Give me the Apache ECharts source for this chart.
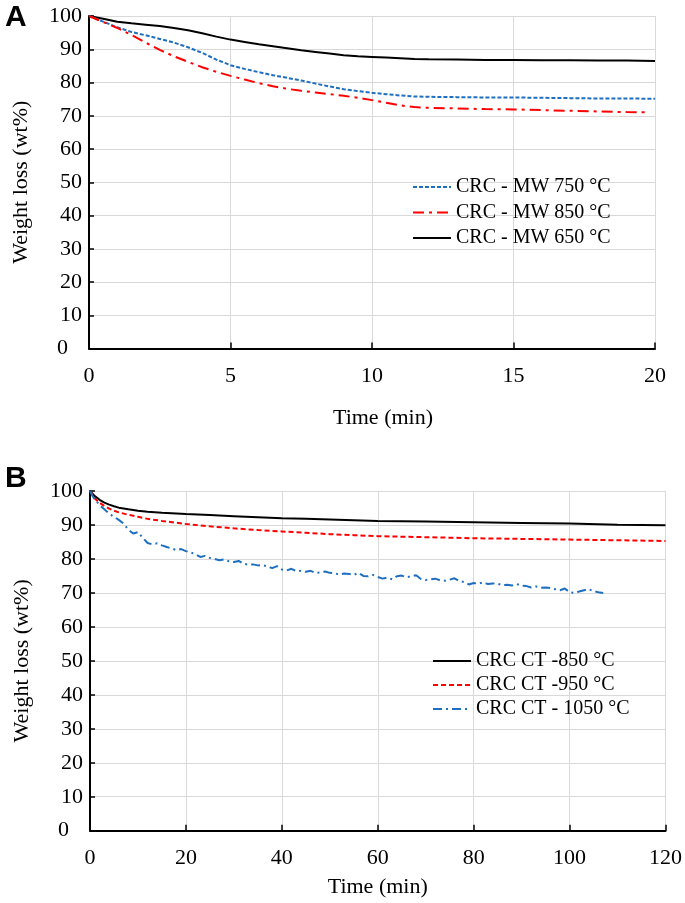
<!DOCTYPE html>
<html>
<head>
<meta charset="utf-8">
<script src="https://cdn.jsdelivr.net/npm/echarts@6/dist/echarts.min.js"></script>
<style>
html,body{margin:0;padding:0;background:#fff;}
#chart{width:685px;height:903px;}
</style>
</head>
<body>
<div id="chart"></div>
<script>
// Panel A: microwave (time in min, weight %)
var mw750 = [[0,100],[0.5,98.3],[1,96.6],[1.5,95.2],[2,94.2],[2.5,93.1],[3,92.0],[3.5,90.6],[4,88.9],[4.5,86.9],[5,85.2],[5.5,84.1],[6,83.1],[6.5,82.2],[7,81.4],[7.5,80.6],[8,79.7],[8.5,78.8],[9,78.0],[9.5,77.4],[10,76.9],[10.5,76.5],[11,76.1],[11.5,75.8],[12,75.7],[13,75.6],[14,75.5],[15,75.5],[16,75.4],[17,75.3],[18,75.2],[19,75.2],[20,75.1]];
var mw850 = [[0,100],[0.5,98.2],[1,96.4],[1.5,94.3],[2,92.0],[2.5,89.8],[3,87.9],[3.5,86.2],[4,84.6],[4.5,83.2],[5,82.0],[5.5,80.9],[6,79.8],[6.5,78.9],[7,78.1],[7.5,77.5],[8,77.0],[8.5,76.5],[9,76.0],[9.5,75.4],[10,74.7],[10.5,73.9],[11,73.1],[11.5,72.6],[12,72.4],[13,72.2],[14,72.0],[15,71.9],[16,71.7],[17,71.5],[18,71.3],[19,71.1],[19.8,71.0]];
var mw650 = [[0,100],[0.5,99.2],[1,98.3],[1.5,97.8],[2,97.4],[2.5,97.0],[3,96.4],[3.5,95.7],[4,94.8],[4.5,93.8],[5,92.9],[5.5,92.2],[6,91.5],[6.5,90.9],[7,90.3],[7.5,89.7],[8,89.2],[8.5,88.7],[9,88.2],[9.5,87.9],[10,87.7],[10.5,87.5],[11,87.3],[11.5,87.1],[12,87.0],[13,86.9],[14,86.8],[15,86.8],[16,86.7],[17,86.7],[18,86.6],[19,86.6],[20,86.5]];

// Panel B: conventional heating
var ct850 = [[0,100],[1,98.5],[2,97.4],[3,96.6],[4,96.0],[5,95.5],[6,95.1],[8,94.6],[10,94.2],[12,93.9],[15,93.6],[20,93.2],[25,92.9],[30,92.6],[35,92.3],[40,92.0],[45,91.8],[50,91.6],[55,91.4],[60,91.2],[70,91.0],[80,90.8],[90,90.6],[100,90.4],[110,90.1],[120,89.9]];
var ct950 = [[0,100],[1,97.8],[2,96.5],[3,95.6],[4,94.8],[5,94.2],[6,93.7],[8,93.0],[10,92.4],[12,91.8],[15,91.2],[20,90.3],[25,89.6],[30,89.0],[35,88.5],[40,88.1],[45,87.7],[50,87.3],[55,87.0],[60,86.7],[70,86.4],[80,86.1],[90,85.9],[100,85.7],[110,85.5],[120,85.3]];
var ct1050 = [[0,100],[0.5,98.6],[1,97.5],[1.5,96.7],[2,95.8],[3,94.6],[4,93.3],[5,92.4],[6,91.5],[7,90.4],[8,88.6],[9,87.5],[10,87.9],[11,86.2],[12,84.7],[13,84.3],[14,84.6],[15,84.0],[16,83.5],[17,83.1],[18,82.6],[19,82.9],[20,82.3],[21,81.9],[22,81.4],[23,80.6],[24,80.9],[25,80.3],[26,80.0],[27,79.6],[28,79.9],[29,79.3],[30,79.1],[31,79.4],[32,78.6],[33,78.3],[34,78.4],[35,78.1],[36,78.2],[37,77.8],[38,77.3],[39,77.9],[40,76.9],[41,76.6],[42,77.1],[43,76.4],[44,76.5],[45,76.2],[46,76.5],[47,75.9],[48,76.0],[49,76.3],[50,75.9],[51,75.8],[52,75.4],[53,75.7],[54,75.6],[55,75.3],[56,75.9],[57,75.0],[58,74.9],[59,75.3],[60,74.7],[61,74.2],[62,74.5],[63,74.0],[64,74.9],[65,75.1],[66,74.6],[67,74.9],[68,75.2],[69,74.1],[70,73.8],[71,74.0],[72,74.2],[73,73.7],[74,73.6],[75,73.9],[76,74.3],[77,73.5],[78,73.2],[79,72.5],[80,72.9],[81,72.7],[82,73.1],[83,72.6],[84,72.8],[85,72.7],[86,72.3],[87,72.4],[88,72.2],[89,72.6],[90,72.1],[91,72.0],[92,71.6],[93,71.9],[94,71.5],[95,71.6],[96,71.4],[97,71.1],[98,70.8],[99,71.3],[100,70.2],[101,70.0],[102,70.4],[103,70.8],[104,71.1],[105,70.5],[106,70.2],[107,70.0]];

var namesA = ['CRC - MW 750 °C', 'CRC - MW 850 °C', 'CRC - MW 650 °C'];
var namesB = ['CRC CT -850 °C', 'CRC CT -950 °C', 'CRC CT - 1050 °C'];
var yAxisTitle = 'Weight loss (wt%)';
var xAxisTitle = 'Time (min)';

var FONT = "'Liberation Serif', 'Times New Roman', serif";
var chart = echarts.init(document.getElementById('chart'), null, {renderer: 'canvas'});

function yAx(gi) {
  return {
    type: 'value', gridIndex: gi, min: 0, max: 100, interval: 10,
    name: yAxisTitle, nameLocation: 'middle', nameGap: 57,
    nameTextStyle: {fontFamily: FONT, fontSize: 22, color: '#000'},
    axisLine: {show: true, lineStyle: {color: '#000', width: 2}},
    axisTick: {show: true, inside: true, length: 5, lineStyle: {color: '#000', width: 1.5}},
    axisLabel: {
      margin: 7, fontFamily: FONT, fontSize: 22, color: '#000',
      formatter: function (v) { return v === 0 ? '{z|0}' : String(v); },
      rich: {z: {fontFamily: FONT, fontSize: 22, color: '#000', padding: [0, 14, 0, 0]}}
    },
    splitLine: {show: true, lineStyle: {color: '#d9d9d9', width: 1}}
  };
}
function xAx(gi, max, interval, labelMargin, nameGap, namePad) {
  return {
    type: 'value', gridIndex: gi, min: 0, max: max, interval: interval,
    name: xAxisTitle, nameLocation: 'middle', nameGap: nameGap,
    nameTextStyle: {fontFamily: FONT, fontSize: 22, color: '#000', padding: namePad},
    axisLine: {show: true, onZero: false, lineStyle: {color: '#000', width: 2}},
    axisTick: {show: true, inside: true, length: 6, lineStyle: {color: '#000', width: 1.5}},
    axisLabel: {margin: labelMargin, fontFamily: FONT, fontSize: 22, color: '#000'},
    splitLine: {show: true, lineStyle: {color: '#d9d9d9', width: 1}}
  };
}
function line(name, data, color, type, gi, width) {
  return {
    name: name, type: 'line', data: data, xAxisIndex: gi, yAxisIndex: gi,
    symbol: 'none', smooth: false, animation: false,
    lineStyle: {color: color, width: width || 2, type: type},
    itemStyle: {color: color}
  };
}

var legendCommon = {
  orient: 'vertical', itemWidth: 38, itemHeight: 12, padding: 0,
  itemStyle: {color: 'transparent', borderWidth: 0, borderColor: 'transparent'},
  textStyle: {fontFamily: FONT, fontSize: 20, lineHeight: 20, color: '#000'},
  selectedMode: false
};

var option = {
  backgroundColor: '#fff',
  animation: false,
  grid: [
    {left: 89, right: 30, top: 16, bottom: 554.5},
    {left: 90, right: 18, top: 491, bottom: 72.3}
  ],
  xAxis: [xAx(0, 20, 5, 17, 59, [0, 0, 0, 22]), xAx(1, 120, 20, 17, 46, 0)],
  yAxis: [yAx(0), yAx(1)],
  legend: [
    Object.assign({}, legendCommon, {data: namesA, left: 412, top: 177, itemGap: 5.5}),
    Object.assign({}, legendCommon, {data: namesB, left: 432, top: 651, itemGap: 4})
  ],
  series: [
    line(namesA[2], mw650, '#000000', 'solid', 0),
    line(namesA[0], mw750, '#1f6fc0', [4, 2], 0),
    line(namesA[1], mw850, '#ff0000', [11, 5, 3, 5], 0),
    line(namesB[0], ct850, '#000000', 'solid', 1),
    line(namesB[1], ct950, '#ff0000', [5, 3], 1),
    line(namesB[2], ct1050, '#1f6fc0', [9, 4, 2, 4], 1)
  ],
  graphic: [
    {type: 'text', left: 5, top: 3, style: {text: 'A', font: "bold 30px 'Liberation Sans', Arial, sans-serif", fill: '#000'}},
    {type: 'text', left: 5, top: 464, style: {text: 'B', font: "bold 30px 'Liberation Sans', Arial, sans-serif", fill: '#000'}}
  ]
};
chart.setOption(option);
</script>
</body>
</html>
